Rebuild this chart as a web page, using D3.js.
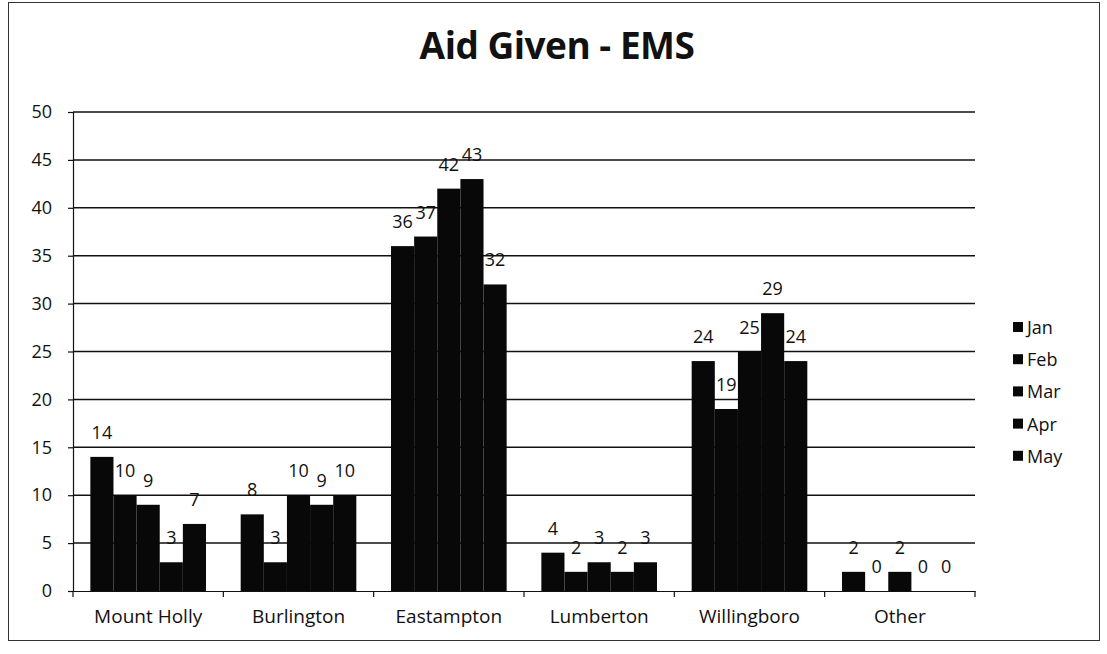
<!DOCTYPE html>
<meta charset="utf-8">
<style>
    body { margin: 0; background: #fff; }
    text { font-family: "Open Sans", sans-serif; fill: #111; }
    .grid line { stroke: #111; stroke-width: 1.5px; }
    .axis path, .axis line { stroke: #111; stroke-width: 1.2px; }
</style>
<body>
<script src="https://d3js.org/d3.v7.min.js"></script>
<script>
    const categories = ["Mount Holly", "Burlington", "Eastampton", "Lumberton", "Willingboro", "Other"]
    const months = ["Jan", "Feb", "Mar", "Apr", "May"]
    const jan = [14, 8, 36, 4, 24, 2]
    const feb = [10, 3, 37, 2, 19, 0]
    const mar = [9, 10, 42, 3, 25, 2]
    const apr = [3, 9, 43, 2, 29, 0]
    const may = [7, 10, 32, 3, 24, 0]
    const yTicks = [0, 5, 10, 15, 20, 25, 30, 35, 40, 45, 50]

    const series = [jan, feb, mar, apr, may]
    // the scan is black & white, every series prints as black
    const colors = ["#080808", "#080808", "#080808", "#080808", "#080808"]

    const W = 1107, H = 654
    const margin = {top: 112, right: 132, bottom: 63, left: 73}
    const width = W - margin.left - margin.right
    const height = H - margin.top - margin.bottom

    const svg = d3.select("body").append("svg")
        .attr("width", W)
        .attr("height", H)

    // chart frame
    svg.append("rect")
        .attr("x", 8.5).attr("y", 2.5)
        .attr("width", 1091).attr("height", 638)
        .attr("fill", "none")
        .attr("stroke", "#333")
        .attr("stroke-width", 1)

    svg.append("text")
        .attr("x", 557).attr("y", 59)
        .attr("text-anchor", "middle")
        .style("font-size", "37px")
        .style("font-weight", "bold")
        .style("letter-spacing", "-0.5px")
        .text("Aid Given - EMS")

    const g = svg.append("g")
        .attr("transform", `translate(${margin.left},${margin.top})`)

    const x0 = d3.scaleBand()
        .domain(categories)
        .range([0, width])
        .paddingInner(0)

    // Excel gap width ~30%
    const groupW = x0.bandwidth() / 1.3
    const x1 = d3.scaleBand()
        .domain(months)
        .range([0, groupW])

    const y = d3.scaleLinear()
        .domain([0, 50])
        .range([height, 0])

    // gridlines
    g.append("g")
        .attr("class", "grid")
        .selectAll("line")
        .data(yTicks.slice(1))
        .join("line")
        .attr("x1", 0).attr("x2", width)
        .attr("y1", d => y(d)).attr("y2", d => y(d))

    // y axis
    const gy = g.append("g")
        .attr("class", "axis")
        .call(d3.axisLeft(y).tickValues(yTicks).tickSize(5).tickPadding(16))
    gy.selectAll("text").style("font-size", "18px")

    // bars
    const groups = g.selectAll(".group")
        .data(categories)
        .join("g")
        .attr("class", "group")
        .attr("transform", c => `translate(${x0(c) + (x0.bandwidth() - groupW) / 2},0)`)

    groups.selectAll("rect")
        .data((c, ci) => months.map((m, mi) => ({m, mi, v: series[mi][ci]})))
        .join("rect")
        .attr("x", d => x1(d.m))
        .attr("width", x1.bandwidth())
        .attr("y", d => y(d.v))
        .attr("height", d => height - y(d.v))
        .attr("fill", d => colors[d.mi])

    groups.selectAll(".lbl")
        .data((c, ci) => months.map((m, mi) => ({m, mi, v: series[mi][ci]})))
        .join("text")
        .attr("class", "lbl")
        .attr("x", d => x1(d.m) + x1.bandwidth() / 2)
        .attr("y", d => y(d.v) - 18)
        .attr("text-anchor", "middle")
        .style("font-size", "18px")
        .text(d => d.v)

    // x axis
    const gx = g.append("g")
        .attr("class", "axis")
        .attr("transform", `translate(0,${height})`)
        .call(d3.axisBottom(x0).tickSize(0).tickPadding(19))
    gx.selectAll("text").style("font-size", "19px")

    // category boundary ticks
    gx.selectAll(".sep")
        .data(d3.range(categories.length + 1))
        .join("line")
        .attr("class", "sep")
        .attr("x1", i => i * x0.bandwidth())
        .attr("x2", i => i * x0.bandwidth())
        .attr("y1", 0).attr("y2", 6)
        .attr("stroke", "#111")

    // legend
    const legend = svg.append("g")
        .attr("transform", "translate(1013,328)")

    const li = legend.selectAll("g")
        .data(months)
        .join("g")
        .attr("transform", (d, i) => `translate(0,${i * 32.2})`)

    li.append("rect")
        .attr("x", 0).attr("y", -6)
        .attr("width", 10).attr("height", 10)
        .attr("fill", (d, i) => colors[i])

    li.append("text")
        .attr("x", 14).attr("y", 6)
        .style("font-size", "18px")
        .text(d => d)
</script>
